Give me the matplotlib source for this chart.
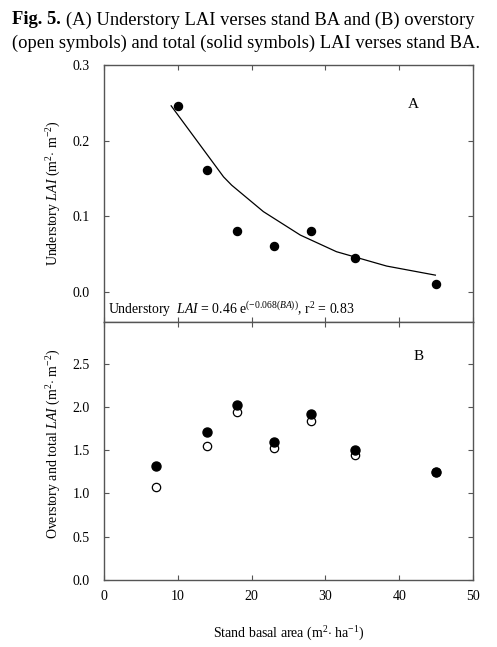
import matplotlib
matplotlib.use("Agg")
import matplotlib.pyplot as plt

plt.rcParams['font.family'] = ['Liberation Serif', 'DejaVu Serif']
plt.rcParams['mathtext.fontset'] = 'custom'
plt.rcParams['mathtext.rm'] = 'Liberation Serif'
plt.rcParams['mathtext.it'] = 'Liberation Serif:italic'
plt.rcParams['mathtext.bf'] = 'Liberation Serif:bold'

# Panel A data
ba_a = [10, 14, 18, 23, 28, 34, 45]
lai_under = [0.246, 0.161, 0.080, 0.060, 0.080, 0.045, 0.010]
# fitted curve vertices
fit_x = [9.1, 16.2, 17.3, 21.6, 26.6, 31.5, 38.3, 44.9]
fit_y = [0.246, 0.152, 0.141, 0.106, 0.075, 0.053, 0.034, 0.022]

# Panel B data
ba_b = [7, 14, 18, 23, 28, 34, 45]
lai_total = [1.316, 1.713, 2.025, 1.590, 1.917, 1.497, 1.251]
lai_over = [1.070, 1.551, 1.936, 1.524, 1.832, 1.443, 1.245]

xticks = [0, 10, 20, 30, 40, 50]
yticks_a = [0.0, 0.1, 0.2, 0.3]
yticks_b = [0.0, 0.5, 1.0, 1.5, 2.0, 2.5]

W, H = 497, 647
fig = plt.figure(figsize=(W / 100, H / 100), dpi=100)

L, R = 104 / W, 473 / W
axA = fig.add_axes([L, 1 - 322 / H, R - L, (322 - 65) / H])
axB = fig.add_axes([L, 1 - 580 / H, R - L, (580 - 322) / H])

spine_col = '#555555'
for ax in (axA, axB):
    ax.set_xlim(0, 50)
    for s in ax.spines.values():
        s.set_color(spine_col)
        s.set_linewidth(1.0)
    ax.tick_params(direction='in', top=True, right=True, length=3.5, width=0.8,
                   color=spine_col, labelsize=10)
    ax.tick_params(axis='y', pad=10)
    ax.tick_params(axis='x', pad=7.5)
    ax.set_xticks(xticks)

# Panel A
axA.set_ylim(-0.04, 0.3)
axA.set_yticks(yticks_a)
axA.set_yticklabels(['%.1f' % v for v in yticks_a])
axA.tick_params(labelbottom=False)
axA.plot(fit_x, fit_y, color='black', lw=0.9)
axA.plot(ba_a, lai_under, 'o', color='black', ms=5.8, mec='black')
axA.set_ylabel(r'Understory $\it{LAI}$ (m$^{2}$$\cdot$ m$^{-2}$)', fontsize=10)
axA.yaxis.set_label_coords(-0.11, 0.5)
axA.text(413, H - 105, 'A', transform=None, fontsize=11, ha='center', va='center')
axA.text(108, H - 309, r'Understory  $\it{LAI}$ = 0.46 e$^{(-0.068(\it{BA}))}$, r$^{2}$ = 0.83',
         transform=None, fontsize=9.9, ha='left', va='center')

# Panel B
axB.set_ylim(0, 2.98)
axB.set_yticks(yticks_b)
axB.set_yticklabels(['%.1f' % v for v in yticks_b])
axB.plot(ba_b, lai_over, 'o', mfc='white', mec='black', ms=6.0, mew=0.9)
axB.plot(ba_b, lai_total, 'o', color='black', ms=6.5, mec='black')
axB.set_ylabel(r'Overstory and total $\it{LAI}$ (m$^{2}$$\cdot$ m$^{-2}$)', fontsize=10)
axB.yaxis.set_label_coords(-0.11, 0.53)
axB.set_xlabel(r'Stand basal area (m$^{2}$$\cdot$ ha$^{-1}$)', fontsize=10, labelpad=15.5)
axB.text(419, H - 357, 'B', transform=None, fontsize=11, ha='center', va='center')

# Caption
cap_fs = 13.3
t_bold = fig.text(12 / W, 1 - 20 / H, 'Fig. 5.', fontsize=cap_fs, fontweight='bold',
                  ha='left', va='center')
fig.canvas.draw()
bb = t_bold.get_window_extent()
fig.text((bb.x1 + 5) / W, 1 - 20 / H, '(A) Understory LAI verses stand BA and (B) overstory',
         fontsize=cap_fs, ha='left', va='center')
fig.text(12 / W, 1 - 43 / H, '(open symbols) and total (solid symbols) LAI verses stand BA.',
         fontsize=cap_fs, ha='left', va='center')

fig.savefig('out.png', dpi=100)
